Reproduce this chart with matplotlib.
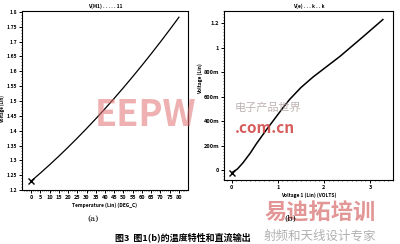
import numpy as np
import matplotlib
matplotlib.use('Agg')
import matplotlib.pyplot as plt
from matplotlib.ticker import MultipleLocator

plt.rcParams['font.family'] = ['Noto Sans CJK SC', 'DejaVu Sans']

# (a) temperature characteristic
temp = [0, 5, 10, 15, 20, 25, 30, 35, 40, 45, 50, 55, 60, 65, 70, 75, 80]
v_temp = [1.23, 1.257, 1.285, 1.314, 1.344, 1.375, 1.407, 1.440, 1.474,
          1.509, 1.545, 1.582, 1.620, 1.659, 1.699, 1.740, 1.782]
temp_ticks = list(range(0, 85, 5))
vt_ticks = [1.2, 1.25, 1.3, 1.35, 1.4, 1.45, 1.5, 1.55, 1.6, 1.65, 1.7, 1.75, 1.8]

# (b) DC output
v_in = [0, 0.12, 0.24, 0.4, 0.54, 0.75, 0.98, 1.12, 1.26, 1.5, 1.76, 2.35, 2.85, 3.28]
v_out = [-0.02, 0.01, 0.06, 0.14, 0.22, 0.33, 0.445, 0.515, 0.58, 0.675, 0.76, 0.93, 1.09, 1.23]
vin_ticks = [0, 1, 2, 3]
vout_ticks = [0, 0.2, 0.4, 0.6, 0.8, 1.0, 1.2]
vout_labels = ['0', '200m', '400m', '600m', '800m', '1', '1.2']

fig = plt.figure(figsize=(4, 2.44), dpi=100)
fig.patch.set_facecolor('white')

tick_kw = dict(labelsize=4, length=2, width=0.7, pad=1.5)

# left chart
ax1 = fig.add_axes([0.055, 0.221, 0.415, 0.734])
ax1.plot(temp, v_temp, color='black', lw=0.9)
ax1.plot(temp[0], v_temp[0], marker='x', color='black', ms=4, mew=1)
ax1.set_xlim(-4.9, 84.9)
ax1.set_ylim(1.2, 1.803)
ax1.set_xticks(temp_ticks)
ax1.set_xticklabels([str(t) for t in temp_ticks], fontweight='bold')
ax1.set_yticks(vt_ticks)
ax1.set_yticklabels(['%g' % v for v in vt_ticks], fontweight='bold')
ax1.xaxis.set_minor_locator(MultipleLocator(1))
ax1.yaxis.set_minor_locator(MultipleLocator(0.01))
ax1.tick_params(which='major', **tick_kw)
ax1.tick_params(axis='y', which='major', labelsize=3.6)
ax1.tick_params(which='minor', length=1, width=0.4)
ax1.set_xlabel('Temperature (Lin) (DEG_C)', fontsize=3.5, fontweight='bold', labelpad=2)
ax1.set_ylabel('Voltage (Lin)', fontsize=3.2, fontweight='bold')
ax1.yaxis.set_label_coords(-0.1, 0.45)
for s in ax1.spines.values():
    s.set_linewidth(0.8)
ax1.spines['right'].set_linestyle((0, (1, 1)))
ax1.set_title('V(M1) . . . . . 11', fontsize=3.5, fontweight='bold', pad=2)

# right chart
ax2 = fig.add_axes([0.56, 0.262, 0.4225, 0.693])
ax2.plot(v_in, v_out, color='black', lw=1.1)
ax2.plot(v_in[0], v_out[0], marker='x', color='black', ms=5, mew=1)
ax2.set_xlim(-0.17, 3.5)
ax2.set_ylim(-0.08, 1.30)
ax2.set_xticks(vin_ticks)
ax2.set_xticklabels([str(v) for v in vin_ticks], fontweight='bold')
ax2.set_yticks(vout_ticks)
ax2.set_yticklabels(vout_labels, fontweight='bold')
ax2.xaxis.set_minor_locator(MultipleLocator(0.1))
ax2.yaxis.set_minor_locator(MultipleLocator(0.025))
ax2.tick_params(which='major', **tick_kw)
ax2.tick_params(which='minor', length=1, width=0.4)
ax2.set_xlabel('Voltage 1 (Lin) (VOLTS)', fontsize=3.5, fontweight='bold', labelpad=2)
ax2.set_ylabel('Voltage (Lin)', fontsize=3.5, fontweight='bold')
ax2.yaxis.set_label_coords(-0.125, 0.6)
for s in ax2.spines.values():
    s.set_linewidth(0.8)
ax2.set_title('V(e) . . . k . . k', fontsize=3.5, fontweight='bold', pad=2)

# watermarks (behind the real text)
fig.text(145 / 400, 1 - 115 / 244, 'EEPW', fontsize=26, fontweight='bold',
         color='#e07070', alpha=0.55, ha='center', va='center', zorder=0)
fig.text(268 / 400, 1 - 108 / 244, '电子产品世界', fontsize=8, style='italic',
         color='#b0a0a0', alpha=0.8, ha='center', va='center', zorder=0)
fig.text(265 / 400, 1 - 128 / 244, '.com.cn', fontsize=11, fontweight='bold',
         color='#d04040', alpha=0.85, ha='center', va='center', zorder=0)
fig.text(320 / 400, 1 - 213 / 244, '易迪拓培训', fontsize=16, fontweight='bold',
         color='#d05050', alpha=0.6, ha='center', va='center', zorder=0)
fig.text(320 / 400, 1 - 236 / 244, '射频和天线设计专家', fontsize=9,
         color='#909090', alpha=0.7, ha='center', va='center', zorder=0)

# sub captions and caption
fig.text(93 / 400, 1 - 219 / 244, '(a)', fontsize=6, ha='center', va='center',
         family='DejaVu Serif', zorder=5)
fig.text(290 / 400, 1 - 219 / 244, '(b)', fontsize=6, ha='center', va='center',
         family='DejaVu Serif', zorder=5)
fig.text(115 / 400, 1 - 237 / 244, '图3  图1(b)的温度特性和直流输出', fontsize=6.5,
         ha='left', va='center', fontweight='bold', zorder=5)

fig.savefig('out.png', dpi=100)
